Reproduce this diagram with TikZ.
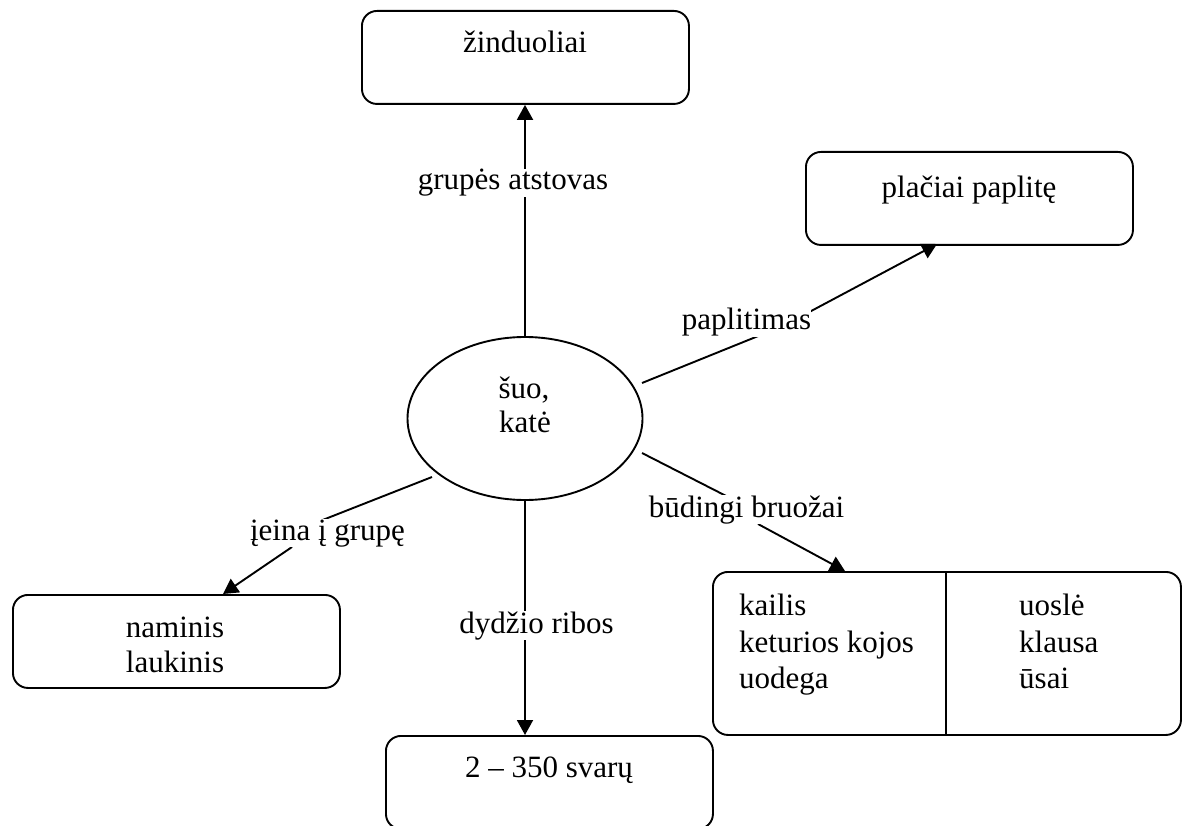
\documentclass[tikz,border=0pt]{standalone}
\usepackage{fontspec}
\setmainfont{Liberation Serif}
\usetikzlibrary{arrows.meta,shapes.geometric}
\begin{document}
\begin{tikzpicture}[x=1pt,y=-1pt,
  font=\fontsize{31}{36}\selectfont,
  conceptbox/.style={draw,line width=1.9pt,rounded corners=15pt,
    minimum width=327pt,minimum height=93pt,anchor=north west,inner sep=0pt},
  txt/.style={anchor=base,inner sep=0pt},
  lbl/.style={anchor=base,inner sep=0pt,fill=white},
  link/.style={line width=1.9pt},
  arrowlink/.style={line width=1.9pt,-{Triangle[length=15pt,width=16pt]}}]
\useasboundingbox (0,0) rectangle (1183,826);

% boxes
\node[conceptbox] (zi) at (361,10) {};
\node[conceptbox] (pl) at (805,151) {};
\node[conceptbox] (nl) at (12,594) {};
\node[conceptbox] (sv) at (385,735) {};
\node[draw,line width=1.9pt,rounded corners=15pt,minimum width=468pt,
  minimum height=163pt,anchor=north west,inner sep=0pt] (br) at (712,571) {};
\draw[line width=1.9pt] (946,571) -- (946,734);

% central ellipse
\node[draw,ellipse,line width=1.9pt,minimum width=235pt,minimum height=163pt,
  inner sep=0pt] (e) at (525,418.5) {};

% texts
\node[txt] (tzi) at (525,53) {žinduoliai};
\node[txt] (tpl) at (969,198) {plačiai paplitę};
\node[txt] (tn1) at (175,637) {naminis};
\node[txt] (tn2) at (175,672) {laukinis};
\node[txt] (tsv) at (549,777) {2 – 350 svarų};
\node[txt] (te1) at (524,398) {šuo,};
\node[txt] (te2) at (525,432) {katė};
\node[txt,anchor=base west] (tb1) at (739,615) {kailis};
\node[txt,anchor=base west] (tb2) at (739,652) {keturios kojos};
\node[txt,anchor=base west] (tb3) at (739,688) {uodega};
\node[txt,anchor=base west] (tb4) at (1019,615) {uoslė};
\node[txt,anchor=base west] (tb5) at (1019,652) {klausa};
\node[txt,anchor=base west] (tb6) at (1019,688) {ūsai};

% connector end points
\coordinate (pA) at (642,383);
\coordinate (pM) at (783,326);
\coordinate (pT) at (937,244);
\coordinate (bA) at (642,453);
\coordinate (bB) at (736,501);
\coordinate (bC) at (758,524);
\coordinate (bT) at (845,571);
\coordinate (iA) at (432,477);
\coordinate (iB) at (315,523);
\coordinate (iC) at (292,547);
\coordinate (iT) at (223,594);

% connectors
\draw[arrowlink] (e.north) -- (e.north |- zi.south);
\draw[arrowlink] (e.south) -- (e.south |- sv.north);
\draw[arrowlink] (pA) -- (pM) -- (pT);
\draw[link] (bA) -- (bB);
\draw[arrowlink] (bC) -- (bT);
\draw[link] (iA) -- (iB);
\draw[arrowlink] (iC) -- (iT);

% connector labels
\node[lbl] (l1) at (513,190) {grupės atstovas};
\node[lbl] (l2) at (746.5,330) {paplitimas};
\node[lbl] (l3) at (746.5,517) {būdingi bruožai};
\node[lbl] (l4) at (327.5,540) {įeina į grupę};
\node[lbl] (l5) at (536.5,633) {dydžio ribos};
\end{tikzpicture}
\end{document}
